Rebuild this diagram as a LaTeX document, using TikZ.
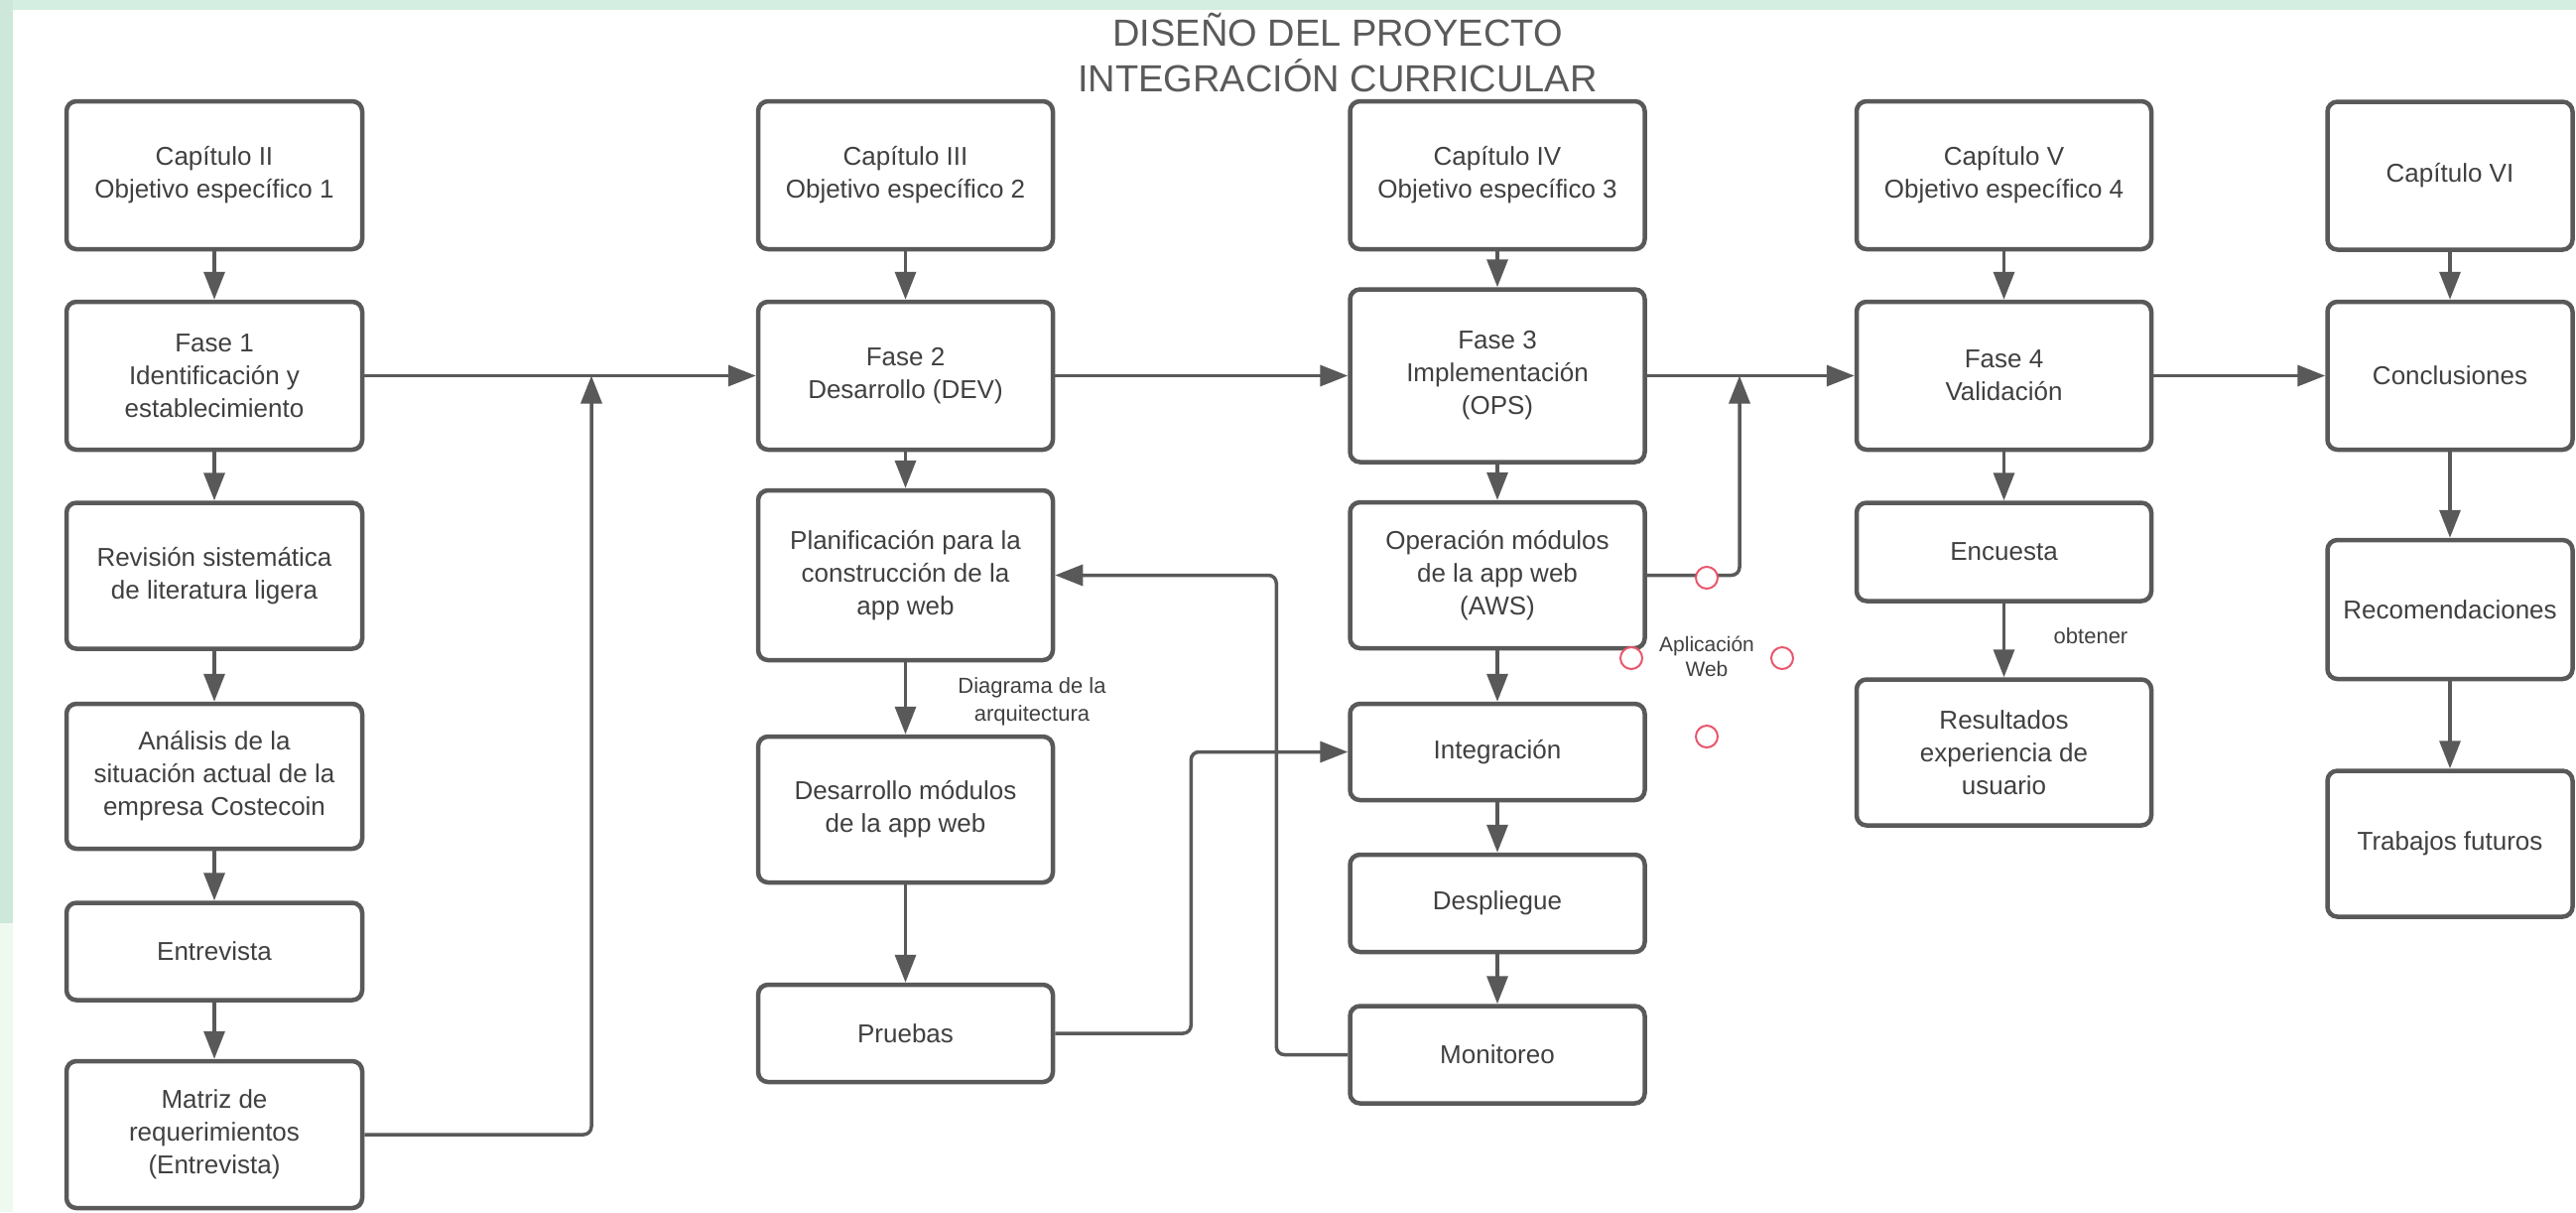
\documentclass[tikz,border=0pt]{standalone}
\usepackage{fontspec}
\setmainfont{Liberation Sans}
\usetikzlibrary{arrows.meta}
\definecolor{bordc}{HTML}{595959}
\definecolor{txtc}{HTML}{404040}
\definecolor{titlec}{HTML}{5A5A5A}
\definecolor{minttop}{HTML}{D5EEE2}
\definecolor{mintleft}{HTML}{CDE8DA}
\definecolor{mintlow}{HTML}{EEF9EF}
\definecolor{redc}{HTML}{E8566C}
\tikzset{
  box/.style={draw=bordc, line width=4.5pt, rounded corners=10pt, fill=white,
    align=center, text=txtc, inner sep=0pt,
    font=\fontsize{26pt}{33pt}\selectfont},
  bx/.style 2 args={minimum width=#1, minimum height=#2},
  arr/.style={draw=bordc, line width=3.5pt, -{Triangle[length=28pt,width=21pt]}},
  link/.style={draw=bordc, line width=3.5pt},
  annot/.style={align=center, text=txtc, inner sep=0pt,
    font=\fontsize{22pt}{28pt}\selectfont},
  anchorpt/.style={circle, draw=redc, line width=2pt, fill=white,
    minimum size=22pt, inner sep=0pt}
}
\begin{document}
\begin{tikzpicture}[x=1pt, y=-1pt]
\useasboundingbox (0,0) rectangle (2596,1221);
% background
\fill[minttop] (0,0) rectangle (2596,1221);
\fill[mintleft] (0,0) rectangle (13,930);
\fill[mintlow] (0,930) rectangle (13,1221);
\fill[white] (13,10) rectangle (2596,1221);

% title
\node[align=center, text=titlec, inner sep=0pt,
  font=\fontsize{38pt}{46pt}\selectfont] (title) at (1348,53)
  {DISEÑO DEL PROYECTO\\INTEGRACIÓN CURRICULAR};

% column 1
\node[box, bx={298pt}{149pt}] (c2) at (216,176.5) {Capítulo II\\Objetivo específico 1};
\node[box, bx={298pt}{149pt}] (f1) at (216,378.5) {Fase 1\\Identificación y\\establecimiento};
\node[box, bx={298pt}{147pt}] (rev) at (216,580) {Revisión sistemática\\de literatura ligera};
\node[box, bx={298pt}{146pt}] (ana) at (216,782) {Análisis de la\\situación actual de la\\empresa Costecoin};
\node[box, bx={298pt}{98pt}] (ent) at (216,958.5) {Entrevista};
\node[box, bx={298pt}{148pt}] (mat) at (216,1143) {Matriz de\\requerimientos\\(Entrevista)};

% column 2
\node[box, bx={297pt}{149pt}] (c3) at (912.5,176.5) {Capítulo III\\Objetivo específico 2};
\node[box, bx={297pt}{149pt}] (f2) at (912.5,378.5) {Fase 2\\Desarrollo (DEV)};
\node[box, bx={297pt}{171pt}] (plan) at (912.5,579.5) {Planificación para la\\construcción de la\\app web};
\node[box, bx={297pt}{147pt}] (dev) at (912.5,815.5) {Desarrollo módulos\\de la app web};
\node[box, bx={297pt}{98pt}] (pru) at (912.5,1041) {Pruebas};

% column 3
\node[box, bx={297pt}{149pt}] (c4) at (1509,176.5) {Capítulo IV\\Objetivo específico 3};
\node[box, bx={297pt}{174pt}] (f3) at (1509,378.5) {Fase 3\\Implementación\\(OPS)};
\node[box, bx={297pt}{147pt}] (op) at (1509,579.5) {Operación módulos\\de la app web\\(AWS)};
\node[box, bx={297pt}{97pt}] (int) at (1509,757.5) {Integración};
\node[box, bx={297pt}{98pt}] (des) at (1509,910) {Despliegue};
\node[box, bx={297pt}{98pt}] (mon) at (1509,1062.5) {Monitoreo};

% column 4
\node[box, bx={297pt}{149pt}] (c5) at (2019.5,176.5) {Capítulo V\\Objetivo específico 4};
\node[box, bx={297pt}{149pt}] (f4) at (2019.5,378.5) {Fase 4\\Validación};
\node[box, bx={297pt}{99pt}] (enc) at (2019.5,556) {Encuesta};
\node[box, bx={297pt}{147pt}] (res) at (2019.5,758) {Resultados\\experiencia de\\usuario};

% column 5
\node[box, bx={247pt}{149pt}] (c6) at (2469,177) {Capítulo VI};
\node[box, bx={247pt}{149pt}] (con) at (2469,378.5) {Conclusiones};
\node[box, bx={247pt}{140pt}] (rec) at (2469,614) {Recomendaciones};
\node[box, bx={247pt}{147pt}] (tra) at (2469,850) {Trabajos futuros};

% vertical arrows
\draw[arr] (c2) -- (f1);
\draw[arr] (f1) -- (rev);
\draw[arr] (rev) -- (ana);
\draw[arr] (ana) -- (ent);
\draw[arr] (ent) -- (mat);
\draw[arr] (c3) -- (f2);
\draw[arr] (f2) -- (plan);
\draw[arr] (plan) -- (dev);
\draw[arr] (dev) -- (pru);
\draw[arr] (c4) -- (f3);
\draw[arr] (f3) -- (op);
\draw[arr] (op) -- (int);
\draw[arr] (int) -- (des);
\draw[arr] (des) -- (mon);
\draw[arr] (c5) -- (f4);
\draw[arr] (f4) -- (enc);
\draw[arr] (enc) -- (res);
\draw[arr] (c6) -- (con);
\draw[arr] (con) -- (rec);
\draw[arr] (rec) -- (tra);

% horizontal main flow
\draw[arr] (f1.east) -- (f1.east -| f2.west);
\draw[arr] (f2.east) -- (f2.east -| f3.west);
\draw[arr] (f3.east) -- (f3.east -| f4.west);
\draw[arr] (f4.east) -- (f4.east -| con.west);

% junction feeds
\coordinate (j1) at (596,378.5);
\coordinate (j2) at (1753,378.5);
\draw[arr, rounded corners=8pt] (mat.east) -| (j1);
\draw[arr, rounded corners=8pt] (op.east) -| (j2);
\draw[arr, rounded corners=8pt] (pru.east) -- ++(137,0) |- (int.west);
\draw[arr, rounded corners=8pt] (mon.west) -- ++(-72,0) |- (plan.east);

% labels
\node[annot] (lbarq) at (1040,707) {Diagrama de la\\arquitectura};
\node[annot] (lbobt) at (2107,641) {obtener};
\node[annot, font=\fontsize{21pt}{25pt}\selectfont] (lbapp) at (1720,661) {Aplicación\\Web};

% red anchor points
\node[anchorpt] (p1) at (1720,582) {};
\node[anchorpt] (p2) at (1644,663) {};
\node[anchorpt] (p3) at (1796,663) {};
\node[anchorpt] (p4) at (1720,742) {};
\end{tikzpicture}
\end{document}
